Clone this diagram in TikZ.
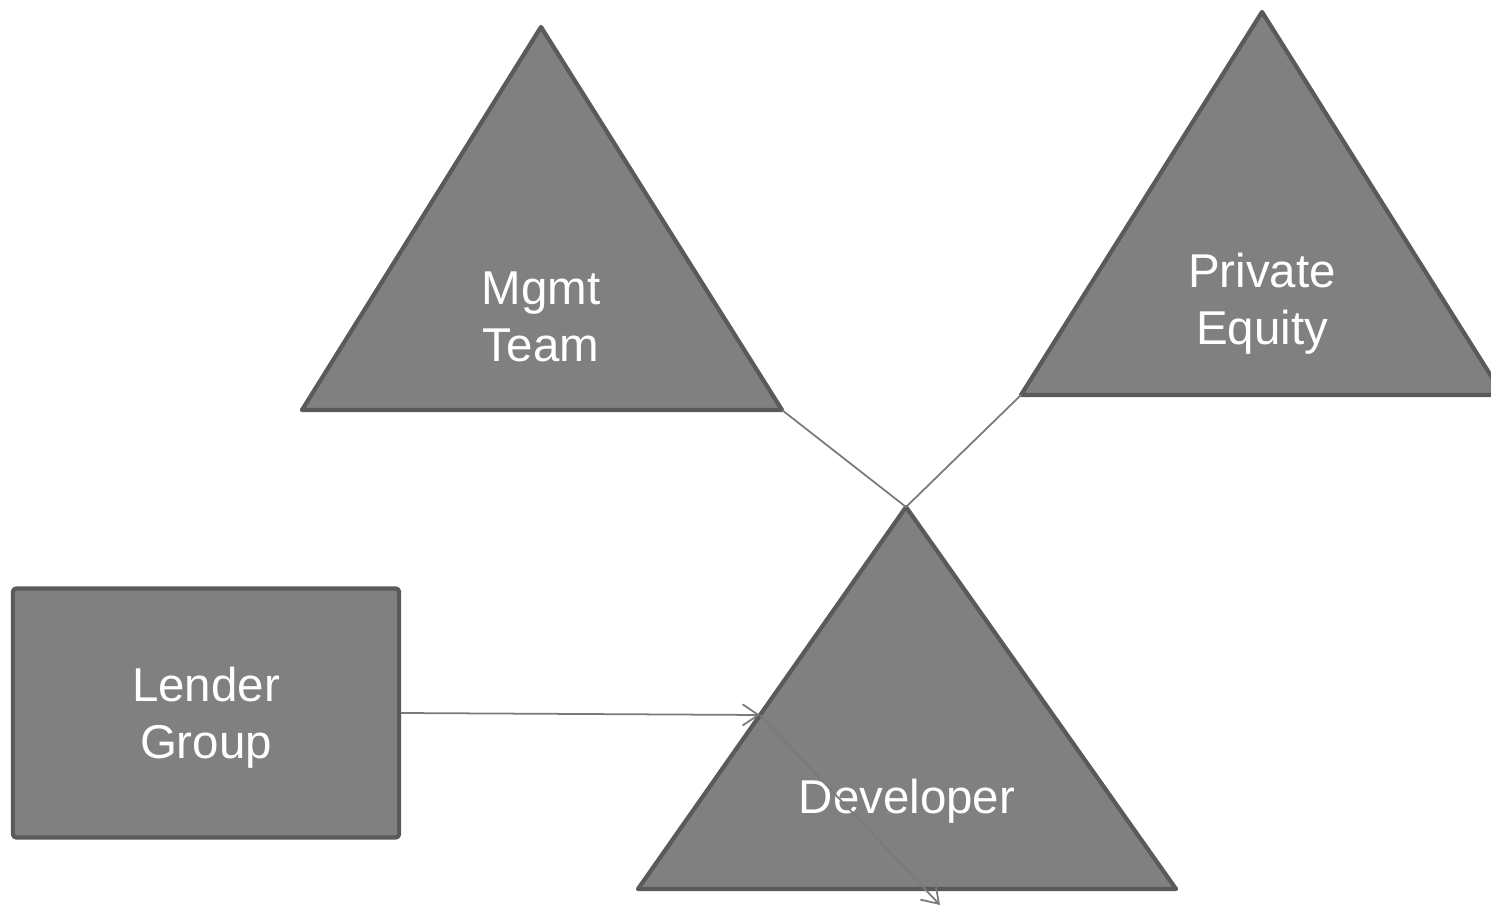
\documentclass[tikz,border=0pt]{standalone}
\usepackage{fontspec}
\setmainfont{Liberation Sans}
\usetikzlibrary{arrows.meta}
\definecolor{partfill}{HTML}{808080}
\definecolor{partedge}{HTML}{5A5A5A}
\definecolor{linkgray}{HTML}{7A7A7A}
\begin{document}
\begin{tikzpicture}[x=0.01cm,y=-0.01cm,
	part/.style={fill=partfill,draw=partedge,line width=1.2pt,line join=round},
	txt/.style={text=white,align=center,font=\fontsize{13.5}{16.2}\selectfont},
	link/.style={draw=linkgray,line width=0.5pt},
	tip/.style={-{Straight Barb[length=4.5pt,width=6pt]}}]
	\clip (0,0) rectangle (1491,907);
	% corners of the triangles
	\coordinate (mgmt-top) at (541,27);
	\coordinate (mgmt-l) at (302,410);
	\coordinate (mgmt-r) at (782,410);
	\coordinate (pe-top) at (1262,12);
	\coordinate (pe-l) at (1021,395);
	\coordinate (pe-r) at (1503,395);
	\coordinate (dev-top) at (906,507);
	\coordinate (dev-l) at (638,889);
	\coordinate (dev-r) at (1176,889);
	\draw[part] (mgmt-top) -- (mgmt-l) -- (mgmt-r) -- cycle;
	\draw[part] (pe-top) -- (pe-l) -- (pe-r) -- cycle;
	\draw[part] (dev-top) -- (dev-l) -- (dev-r) -- cycle;
	\node[part,txt,rounded corners=1pt,minimum width=3.86cm,minimum height=2.49cm,text depth=0pt] (lender) at (206,713) {Lender\\Group};
	\node[txt] (mgmt) at (541,317) {Mgmt\\Team};
	\node[txt] (pe) at (1262,304) {Private\\Equity};
	\node[txt] (dev) at (907,801) {Developer};
	% connectors
	\coordinate (dev-in) at (760,715);
	\coordinate (out) at (940,905);
	\draw[link] (mgmt-r) -- (dev-top) -- (pe-l);
	\draw[link,tip] (lender.east) -- (dev-in);
	\draw[link,tip] (dev-in) -- (out);
\end{tikzpicture}
\end{document}
